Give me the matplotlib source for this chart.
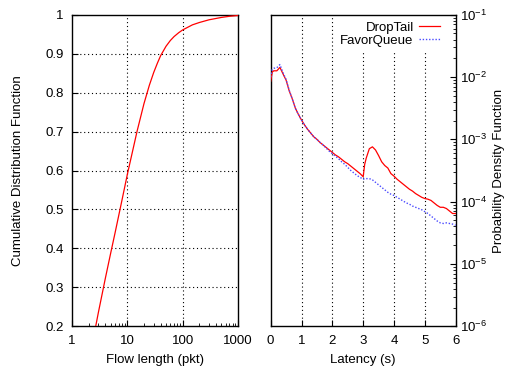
import numpy as np
import matplotlib
matplotlib.use("Agg")
import matplotlib.pyplot as plt
from matplotlib.ticker import FixedLocator, FixedFormatter, LogLocator, NullFormatter

plt.rcParams['font.family'] = ['Liberation Sans', 'DejaVu Sans']
plt.rcParams['font.size'] = 9.5
plt.rcParams['mathtext.fontset'] = 'custom'
plt.rcParams['mathtext.rm'] = 'Liberation Sans'

# left panel: CDF of flow length
flow_len = [2.5, 3, 4, 5, 6, 7, 8, 10, 12, 15, 20, 25, 30, 35, 40, 50, 60, 70,
            85, 100, 150, 200, 300, 500, 700, 1000]
flow_cdf = [0.178, 0.236, 0.323, 0.388, 0.44, 0.485, 0.524, 0.59, 0.64, 0.701,
            0.772, 0.819, 0.852, 0.876, 0.895, 0.919, 0.934, 0.944, 0.954, 0.961,
            0.974, 0.98, 0.987, 0.993, 0.996, 0.998]

# right panel: PDF of latency (log10 of density)
latency = [0.0, 0.05, 0.1, 0.2, 0.3, 0.4, 0.5, 0.6, 0.7, 0.8, 0.9, 1.0,
           1.1, 1.2, 1.3, 1.4, 1.5, 1.6, 1.7, 1.8, 1.9, 2.0,
           2.1, 2.2, 2.3, 2.4, 2.5, 2.6, 2.7, 2.8, 2.9, 3.0,
           3.05, 3.1, 3.2, 3.3, 3.4, 3.5, 3.6, 3.7, 3.8, 3.9, 4.0,
           4.1, 4.2, 4.3, 4.4, 4.5, 4.6, 4.7, 4.8, 4.9, 5.0,
           5.1, 5.2, 5.3, 5.4, 5.5, 5.6, 5.7, 5.8, 5.9, 6.0]
droptail_log = [-2.07, -1.92, -1.90, -1.90, -1.845, -1.95, -2.05, -2.22, -2.35, -2.50, -2.60, -2.69,
                -2.77, -2.84, -2.90, -2.96, -3.00, -3.05, -3.09, -3.13, -3.17, -3.21,
                -3.25, -3.28, -3.32, -3.36, -3.39, -3.43, -3.47, -3.51, -3.55, -3.60,
                -3.40, -3.30, -3.15, -3.12, -3.17, -3.26, -3.36, -3.42, -3.46, -3.55, -3.59,
                -3.64, -3.68, -3.72, -3.76, -3.80, -3.83, -3.87, -3.90, -3.93, -3.95,
                -3.96, -3.98, -4.02, -4.06, -4.09, -4.09, -4.11, -4.15, -4.19, -4.19]
favor_log = [-2.00, -1.88, -1.86, -1.85, -1.80, -1.93, -2.04, -2.21, -2.35, -2.50, -2.60, -2.69,
             -2.77, -2.84, -2.90, -2.96, -3.00, -3.05, -3.09, -3.14, -3.19, -3.23,
             -3.27, -3.31, -3.36, -3.40, -3.45, -3.50, -3.54, -3.58, -3.61, -3.64,
             -3.63, -3.63, -3.63, -3.65, -3.69, -3.73, -3.77, -3.81, -3.85, -3.88, -3.90,
             -3.93, -3.96, -3.99, -4.02, -4.04, -4.07, -4.09, -4.11, -4.13, -4.16,
             -4.19, -4.23, -4.27, -4.31, -4.34, -4.35, -4.34, -4.35, -4.36, -4.38]

fig = plt.figure(figsize=(5.05, 3.69), dpi=100)
ax1 = fig.add_axes([0.1426, 0.1157, 0.3287, 0.8444])
ax2 = fig.add_axes([0.536, 0.1157, 0.3663, 0.8444])

grid_kw = dict(color='black', linestyle=(0, (1, 2.5)), linewidth=0.8)

# --- CDF
ax1.plot(flow_len, flow_cdf, color='#ff0000', linewidth=0.9, zorder=3)
ax1.set_xscale('log')
ax1.set_xlim(1, 1000)
ax1.set_ylim(0.2, 1.0)
ax1.xaxis.set_major_locator(FixedLocator([1, 10, 100, 1000]))
ax1.xaxis.set_major_formatter(FixedFormatter(['1', '10', '100', '1000']))
ax1.xaxis.set_minor_locator(LogLocator(base=10, subs=np.arange(2, 10)))
ax1.xaxis.set_minor_formatter(NullFormatter())
ax1.set_yticks(np.arange(0.2, 1.01, 0.1))
ax1.set_yticklabels(['0.2', '0.3', '0.4', '0.5', '0.6', '0.7', '0.8', '0.9', '1'])
for v in [10, 100]:
    ax1.axvline(v, zorder=1, **grid_kw)
for v in np.arange(0.3, 0.95, 0.1):
    ax1.axhline(v, zorder=1, **grid_kw)
ax1.tick_params(which='major', direction='in', length=4, width=0.8, pad=6)
ax1.tick_params(which='minor', direction='in', length=2.5, width=0.6)
ax1.set_xlabel('Flow length (pkt)', labelpad=5)

# --- PDF
ax2.plot(latency, [10 ** v for v in droptail_log], color='#ff0000',
         linewidth=0.9, label='DropTail', zorder=3)
ax2.plot(latency, [10 ** v for v in favor_log], color='#4a4aff',
         linewidth=1.0, linestyle=(0, (1, 1.3)), label='FavorQueue', zorder=3)
ax2.set_yscale('log')
ax2.set_xlim(0, 6)
ax2.set_ylim(1e-6, 1e-1)
ax2.set_xticks(range(7))
ax2.yaxis.set_major_locator(LogLocator(base=10, numticks=10))
ax2.yaxis.set_minor_locator(LogLocator(base=10, subs=np.arange(2, 10), numticks=20))
ax2.yaxis.set_minor_formatter(NullFormatter())
ax2.yaxis.tick_right()
for v in range(1, 6):
    ax2.axvline(v, zorder=1, **grid_kw)
ax2.tick_params(which='major', direction='in', length=4, width=0.8)
ax2.tick_params(which='minor', direction='in', length=2.5, width=0.6)
ax2.tick_params(axis='x', pad=6)
ax2.tick_params(axis='y', pad=3)
ax2.set_xlabel('Latency (s)', labelpad=5)

leg = ax2.legend(loc='upper right', bbox_to_anchor=(0.937, 0.99), markerfirst=False,
                 frameon=True, fancybox=False, edgecolor='none', facecolor='white',
                 framealpha=1, handlelength=1.6, handletextpad=0.4,
                 labelspacing=0.05, borderpad=0.3, borderaxespad=0.0)
leg.set_zorder(5)
for col in leg._legend_handle_box.get_children():
    col.align = 'right'

for ax in (ax1, ax2):
    for s in ax.spines.values():
        s.set_linewidth(1.0)

fig.text(18 / 505, 1 - 170.5 / 369, 'Cumulative Distribution Function',
         rotation=90, ha='center', va='center')
fig.text(499 / 505, 1 - 170.5 / 369, 'Probability Density Function',
         rotation=90, ha='center', va='center')

fig.savefig('out.png', dpi=100)
